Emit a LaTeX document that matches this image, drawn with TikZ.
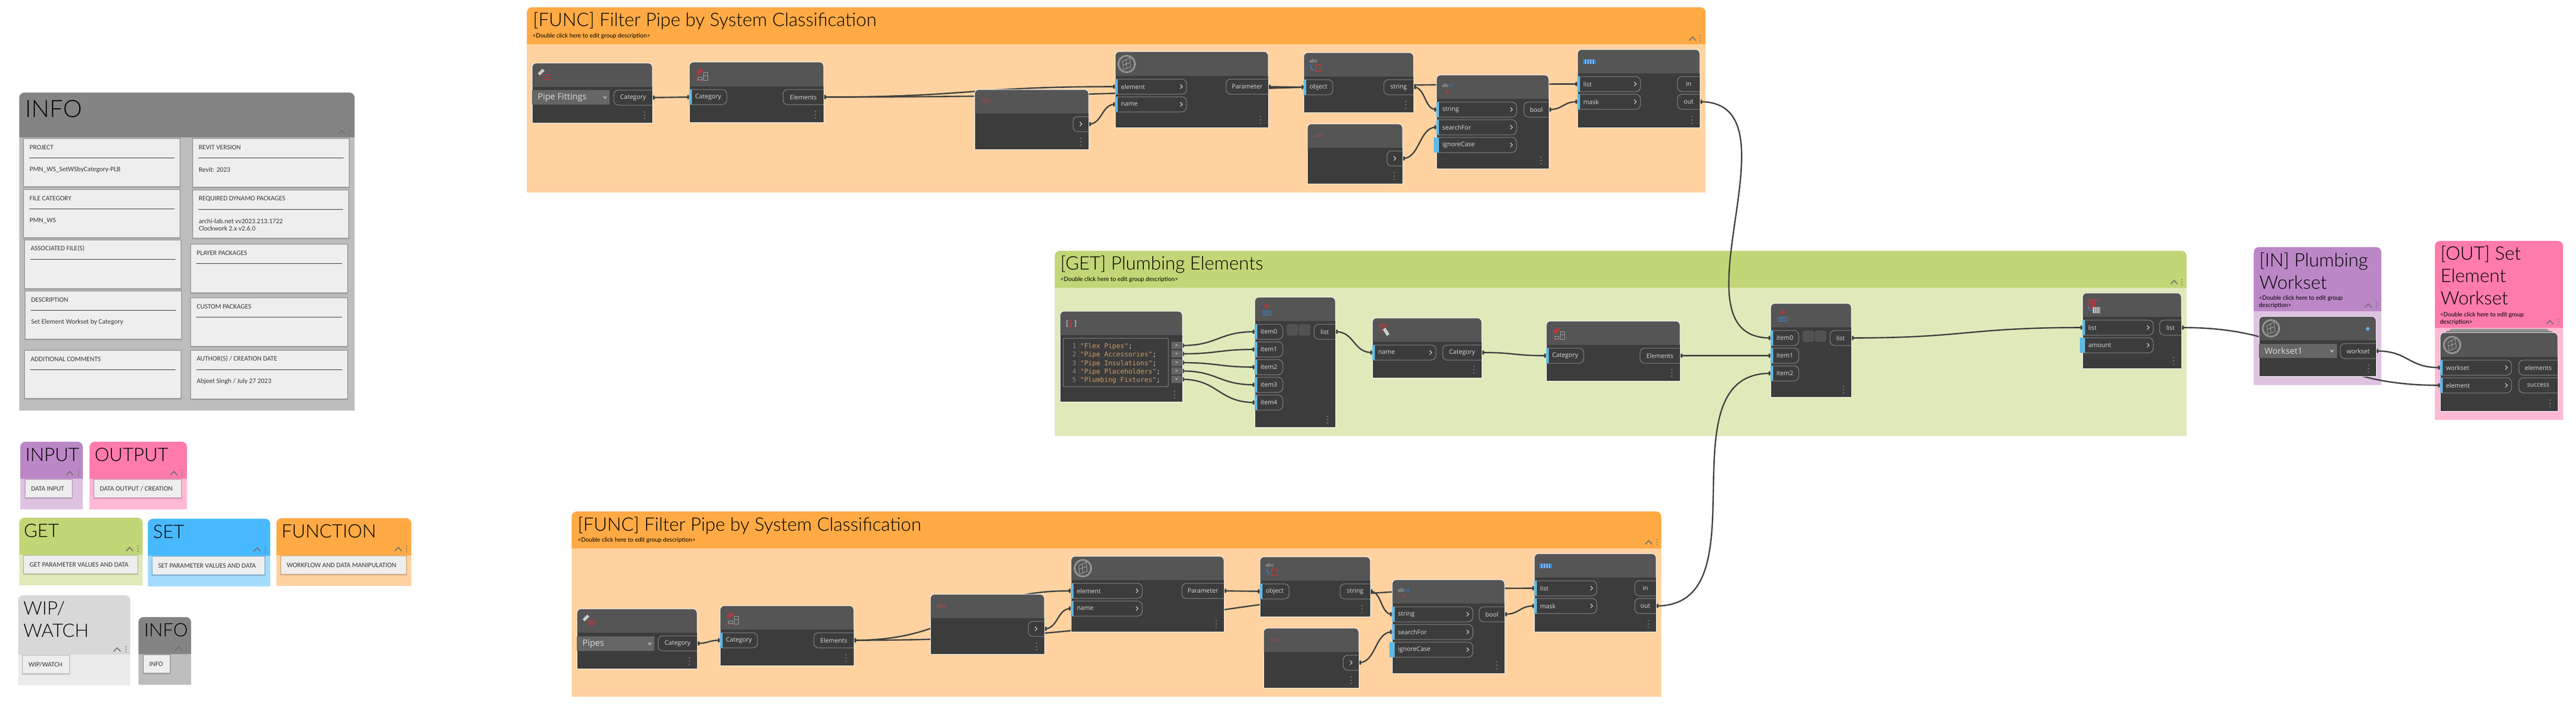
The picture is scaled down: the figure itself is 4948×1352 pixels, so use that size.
\documentclass[tikz,border=0pt]{standalone}
\usepackage{fontspec}
\setmainfont{Lato}
\newfontfamily\ttlf{Lato Light}
\newfontfamily\portf{Open Sans}
\newfontfamily\cardf{Carlito}
\newfontfamily\monof{DejaVu Sans Mono}
\usetikzlibrary{calc}
\pgfdeclarelayer{grp}\pgfdeclarelayer{wire}\pgfsetlayers{grp,wire,main}
\definecolor{cInH}{HTML}{BB87C6}\definecolor{cInB}{HTML}{DEC3E1}
\definecolor{cOutH}{HTML}{FF7BAC}\definecolor{cOutB}{HTML}{FFB9D4}
\definecolor{cGetH}{HTML}{C1D676}\definecolor{cGetB}{HTML}{E0E9BA}
\definecolor{cSetH}{HTML}{48B9FF}\definecolor{cSetB}{HTML}{A3DBFF}
\definecolor{cFunH}{HTML}{FFAA45}\definecolor{cFunB}{HTML}{FFD2A0}
\definecolor{cWipH}{HTML}{D8D8D8}\definecolor{cWipB}{HTML}{EBEBEB}
\definecolor{cInfH}{HTML}{848484}\definecolor{cInfB}{HTML}{BDBDBD}
\definecolor{nHead}{HTML}{555555}\definecolor{nBody}{HTML}{3C3C3C}
\definecolor{wireC}{HTML}{3F3F3F}\definecolor{pLine}{HTML}{8E8E8E}
\definecolor{pBar}{HTML}{5FB8E6}\definecolor{pTxt}{HTML}{DADADA}
\definecolor{ddC}{HTML}{666666}\definecolor{cardC}{HTML}{EEEEEE}
\definecolor{codeC}{HTML}{D49A5C}\definecolor{iRed}{HTML}{B5393C}
\definecolor{iBlue}{HTML}{3D82C9}\definecolor{ctlC}{HTML}{6F6F6F}
\tikzset{
 grouptitle/.style={anchor=base west,inner sep=0pt,text=black,font=\ttlf\fontsize{8.9}{10}\selectfont},
 bigtitle/.style={grouptitle,font=\ttlf\fontsize{11.5}{14}\selectfont},
 groupdesc/.style={anchor=base west,inner sep=0pt,text=black,font=\fontsize{2.85}{3.4}\selectfont},
 portbox/.style={inner sep=0pt,minimum height=7.25pt},
 plabel/.style={inner sep=0pt,text=pTxt,font=\portf\fontsize{3.0}{3.6}\selectfont},
 pline/.style={draw=pLine,line width=.25pt},
 ddtext/.style={anchor=west,inner sep=0pt,text=pTxt,font=\portf\fontsize{4.15}{5}\selectfont},
 wirest/.style={draw=wireC,line width=.65pt},
 cardtxt/.style={anchor=west,inner sep=0pt,text=black!78,font=\cardf\fontsize{3.27}{4}\selectfont},
 codetxt/.style={anchor=base west,inner sep=0pt,text=codeC,font=\monof\fontsize{3.2}{4}\selectfont},
 lineno/.style={anchor=base east,inner sep=0pt,text=black!45,font=\monof\fontsize{3.2}{4}\selectfont},
 outsq/.style={inner sep=0pt,fill=ddC,minimum width=5pt,minimum height=3.5pt,text=pTxt,font=\monof\fontsize{2.2}{3}\selectfont},
 abctxt/.style={inner sep=0pt,text=iRed!75!gray,font=\portf\fontsize{2.6}{3}\selectfont},
 icotxt/.style={inner sep=0pt,text=black!25,font=\portf\fontsize{2.4}{3}\selectfont},
 nodehull/.style={inner sep=0pt},
}
% group: header, body, x0 y0 x1 yh y1
\newcommand\grp[7]{\begin{pgfonlayer}{grp}
 \fill[#2] (#3,#6) rectangle (#5,#7);
 \fill[#1,rounded corners=2.4pt] (#3,#6) -- (#3,#4) -- (#5,#4) -- (#5,#6);
 \end{pgfonlayer}}
\newcommand\grpctl[4][ctlC]{\begin{pgfonlayer}{grp}
 \draw[#1,line width=.45pt] (#2-6.5,#3+4) -- (#2,#3-3) -- (#2+6.5,#3+4);
 \foreach \k in {-5,0,5}{\draw[#1,line width=.1pt] (#4,#3+\k) circle[radius=1];}
 \end{pgfonlayer}}
% dynamo node: name x0 y0 x1 y1 yh
\newcommand\dyn[6]{%
 \node[nodehull,minimum width={(#4-#2)*0.25pt},minimum height={(#5-#3)*0.25pt}] (#1) at ({(#2+#4)/2},{(#3+#5)/2}) {};
 \fill[nHead,rounded corners=2pt] (#2,#6) -- (#2,#3) -- (#4,#3) -- (#4,#6);
 \fill[nBody] (#2,#6) rectangle (#4,#5);
 \draw[white,line width=.25pt,rounded corners=2pt] (#2,#6) -- (#2,#3) -- (#4,#3) -- (#4,#6);
 \draw[white,line width=.25pt] (#2,#6) -- (#2,#5) -- (#4,#5) -- (#4,#6);}
\newcommand\kebab[2]{\foreach \k in {0,6.5,13}{\fill[black!52] (#1,#2+\k) circle[radius=1.5];}}
\newcommand\chev[2]{\draw[pTxt,line width=.28pt] (#1-2,#2-4) -- (#1+2,#2) -- (#1-2,#2+4);}
\newcommand\inport[5]{%
 \node[portbox,minimum width={(#4-#2)*0.25pt}] (#1) at ({(#2+#4)/2},{#3+14.5}) {};
 \draw[pline,rounded corners=2.25pt] (#2,#3) -- (#4,#3) -- (#4,#3+29) -- (#2,#3+29);
 \fill[pBar] (#2,#3) rectangle (#2+5,#3+29);
 \node[plabel,anchor=west] (#1-t) at (#2+10.5,#3+14.5) {#5};}
\newcommand\inportc[5]{\inport{#1}{#2}{#3}{#4}{#5}\chev{#4-10}{#3+14.5}}
\newcommand\xbar[2]{\fill[pBar] (#1-5,#2) rectangle (#1+5,#2+29);}
\newcommand\outport[6][]{%
 \node[portbox,minimum width={(#5-#3)*0.25pt}] (#2) at ({(#3+#5)/2},{#4+14.5}) {};
 \draw[pline,rounded corners=2.25pt] (#5,#4) -- (#3,#4) -- (#3,#4+29) -- (#5,#4+29);
 \node[plabel] (#2-t) at ({(#3+#5)/2#1},{#4+14.5}) {#6};}
\newcommand\outportc[4]{%
 \node[portbox,minimum width={(#4-#2)*0.25pt}] (#1) at ({(#2+#4)/2},{#3+14.5}) {};
 \draw[pline,rounded corners=2.25pt] (#4,#3) -- (#2,#3) -- (#2,#3+29) -- (#4,#3+29);
 \chev{#2+15}{#3+14.5}}
\newcommand\drop[7]{% name x0 y0 x1 y1 label chevx
 \node[nodehull,fill=ddC,minimum width={(#4-#2)*0.25pt},minimum height={(#5-#3)*0.25pt}] (#1) at ({(#2+#4)/2},{(#3+#5)/2}) {};
 \node[ddtext] (#1-t) at (#2+10,{(#3+#5)/2}) {#6};
 \draw[pTxt,line width=.3pt] (#7-3,{(#3+#5)/2-2}) -- (#7,{(#3+#5)/2+2}) -- (#7+3,{(#3+#5)/2-2});}
% connector
\newcommand\wire[3]{\begin{pgfonlayer}{wire}
 \draw[wirest] (#1.east) .. controls +(#3,0) and +(-#3,0) .. (#2.west);
 \fill[wireC] ($(#1.east)+(2,0)$) ellipse[x radius=2,y radius=4.5];
 \fill[wireC] ($(#2.west)+(-1.5,0)$) ellipse[x radius=2,y radius=4.5];
 \end{pgfonlayer}}
% cards
\newcommand\cardbase[5]{%
 \fill[black,opacity=.10] (#2-2,#3-2) rectangle (#4+2,#5+3);
 \fill[black,opacity=.10] (#2-1,#3-1) rectangle (#4+1,#5+2);
 \node[nodehull,fill=cardC,minimum width={(#4-#2)*0.25pt},minimum height={(#5-#3)*0.25pt}] (#1) at ({(#2+#4)/2},{(#3+#5)/2}) {};}
\newcommand\card[7]{\cardbase{#1}{#2}{#3}{#4}{#5}
 \node[cardtxt] (#1-l) at (#2+10,#3+16) {#6};
 \draw[black!85,line width=.25pt] (#2+10,#3+36) -- (#4-10,#3+36);
 \node[cardtxt] (#1-v) at (#2+10,#3+59) {#7};}
\newcommand\lcard[6]{\cardbase{#1}{#2}{#3}{#4}{#5}
 \node[cardtxt] (#1-l) at (#2+10,{(#3+#5)/2}) {#6};}
% icons
\newcommand\icoSelect[2]{\begin{scope}[shift={(#1,#2)}]
 \fill[white!80!black] (2,-7) -- (6,-3) -- (-3,6) -- (-7,2) -- cycle;
 \foreach \k in {4,8.5,13}{\fill[iRed] (6,\k) rectangle (17,\k+2);\fill[iRed] (2,\k) rectangle (4.5,\k+2);}
 \end{scope}}
\newcommand\icoCat[2]{\begin{scope}[shift={(#1,#2)}]
 \fill[iRed] (4,-8) -- (8,-3) -- (0,5) -- (-5,0) -- cycle;
 \draw[iRed,line width=.2pt] (-4,3) -- (-4,15) -- (17,15);
 \draw[white!65!black,line width=.2pt] (-2,9) rectangle (6,14);
 \draw[white!65!black,line width=.2pt] (9,0) rectangle (17,15) (9,6) -- (17,6);
 \end{scope}}
\newcommand\icoRevit[2]{\begin{scope}[shift={(#1,#2)}]
 \draw[white!80!black,line width=.25pt] (0,0) circle[radius=16.5];
 \draw[white!80!black,line width=.15pt] (0,0) circle[radius=14.5];
 \draw[white!70!black,line width=.2pt] (-8,-5) -- (6,-12) -- (8,6) -- (-6,11) -- cycle (-1,-8) -- (0,8) (-7,2) -- (7,-3);
 \end{scope}}
\newcommand\icoStr[2]{\begin{scope}[shift={(#1,#2)}]
 \node[icotxt] at (0,-1) {abc};
 \draw[iBlue,line width=.4pt] (-6,6) .. controls (-6,12) and (-3,15) .. (0,17);
 \draw[iRed,line width=.3pt] (4,7) rectangle (15,19);
 \end{scope}}
\newcommand\icoContains[2]{\begin{scope}[shift={(#1,#2)}]
 \node[icotxt] at (0,0) {\textcolor{black!25}{ab}\textcolor{iBlue}{cd}};
 \fill[iRed] (-3,14) -- (0,7) -- (3,14) -- cycle;
 \end{scope}}
\newcommand\icoStripes[2]{\begin{scope}[shift={(#1,#2)}]
 \fill[iBlue] (-12,-4.5) rectangle (12,4.5);
 \foreach \k in {-8,-3,2,7}{\fill[white!85!iBlue] (\k,-4.5) rectangle (\k+1.3,4.5);}
 \end{scope}}
\newcommand\icoCreate[2]{\begin{scope}[shift={(#1,#2)}]
 \fill[iRed] (-5,-14) rectangle (5,-12) (-1,-18) rectangle (1,-8);
 \draw[iBlue,line width=.25pt] (-8,-4) rectangle (8,4);
 \foreach \k in {-5,-2,1,4}{\draw[iBlue,line width=.25pt] (\k,-4) -- (\k,4);}
 \end{scope}}
\begin{document}
\begin{tikzpicture}[x=0.25pt,y=-0.25pt]
\useasboundingbox (0,0) rectangle (4948,1352);
%%%%%% INFO panel
\grp{cInfH}{cInfB}{37}{178}{681}{264}{789}
\grpctl[cInfH!85!black]{657}{254}{671}
\node[bigtitle] (infoT) at (48,225) {INFO};
\card{cProj}{46}{267}{345}{358}{PROJECT}{PMN\_WS\_SetWSbyCategory-PLB}
\card{cRevit}{371}{267}{670}{359}{REVIT VERSION}{Revit: 2023}
\card{cFile}{46}{365}{345}{456}{FILE CATEGORY}{PMN\_WS}
\card{cReq}{371}{366}{669}{457}{REQUIRED DYNAMO PACKAGES}{archi-lab.net vv2023.213.1722}
\node[cardtxt] (cReq-w) at (381,439) {Clockwork 2.x v2.6.0};
\card{cAssoc}{48}{462}{347}{554}{ASSOCIATED FILE(S)}{}
\card{cPlayer}{367}{470}{667}{562}{PLAYER PACKAGES}{}
\card{cDesc}{49}{560}{348}{651}{DESCRIPTION}{Set Element Workset by Category}
\card{cCust}{367}{573}{667}{665}{CUSTOM PACKAGES}{}
\card{cAdd}{48}{674}{347}{765}{ADDITIONAL COMMENTS}{}
\card{cAuth}{367}{674}{667}{766}{AUTHOR(S) / CREATION DATE}{Abjeet Singh / July 27 2023}
%%%%%% legend
\grp{cInH}{cInB}{39}{849}{159}{920}{979}\grpctl{134}{909}{151}
\node[grouptitle] (lgIn) at (48,886) {INPUT};
\lcard{lcIn}{49}{922}{138}{956}{DATA INPUT}
\grp{cOutH}{cOutB}{172}{849}{359}{920}{979}\grpctl{334}{909}{350}
\node[grouptitle] (lgOut) at (181,886) {OUTPUT};
\lcard{lcOut}{181}{922}{348}{956}{DATA OUTPUT / CREATION}
\grp{cGetH}{cGetB}{37}{995}{274}{1066}{1125}\grpctl{249}{1055}{265}
\node[grouptitle] (lgGet) at (45,1032) {GET};
\lcard{lcGet}{46}{1068}{264}{1102}{GET PARAMETER VALUES AND DATA}
\grp{cSetH}{cSetB}{284}{997}{519}{1068}{1127}\grpctl{494}{1056}{510}
\node[grouptitle] (lgSet) at (293,1034) {SET};
\lcard{lcSet}{293}{1070}{508}{1104}{SET PARAMETER VALUES AND DATA}
\grp{cFunH}{cFunB}{531}{996}{790}{1067}{1126}\grpctl{765}{1055}{781}
\node[grouptitle] (lgFun) at (540,1033) {FUNCTION};
\lcard{lcFun}{540}{1069}{780}{1103}{WORKFLOW AND DATA MANIPULATION}
\grp{cWipH}{cWipB}{35}{1144}{250}{1258}{1317}\grpctl{225}{1248}{242}
\node[grouptitle] (lgWip) at (44,1181) {WIP/};
\node[grouptitle] (lgWip2) at (44,1224) {WATCH};
\lcard{lcWip}{44}{1260}{133}{1294}{WIP/WATCH}
\grp{cInfH}{cInfB}{266}{1186}{367}{1257}{1316}\grpctl[cInfH!85!black]{343}{1246}{358}
\node[grouptitle] (lgInf) at (276,1223) {INFO};
\lcard{lcInf}{276}{1259}{326}{1293}{INFO}
%%%%%% top FUNC group
\grp{cFunH}{cFunB}{1012}{14}{3276}{85}{370}\grpctl{3251}{74}{3266}
\begin{pgfonlayer}{grp}
\node[grouptitle] (gT1) at (1023,50) {[FUNC] Filter Pipe by System Classification};
\node[groupdesc] (gD1) at (1022,72) {<Double click here to edit group description>};
\end{pgfonlayer}
\dyn{a1}{1022}{121}{1253}{236}{167}\icoSelect{1040}{139}
\drop{a1d}{1022}{173}{1171}{201}{Pipe Fittings}{1162}
\outport{a1c}{1179}{173}{1253}{Category}\kebab{1238}{215}
\dyn{b1}{1324}{119}{1582}{235}{166}\icoCat{1342}{139}
\inport{b1i}{1324}{172}{1396}{Category}
\outport{b1o}{1504}{172}{1582}{Elements}\kebab{1566}{214}
\dyn{c1}{1872}{172}{2091}{287}{218}\node[abctxt] (c1t) at (1894,195) {ABC};
\outportc{c1o}{2061}{224}{2091}\kebab{2076}{266}
\dyn{d1}{2142}{99}{2436}{245}{146}\icoRevit{2164}{123}
\inportc{d1e}{2142}{152}{2279}{element}\inportc{d1n}{2142}{186}{2279}{name}
\outport{d1p}{2355}{152}{2436}{Parameter}\kebab{2421}{224}
\dyn{e1}{2504}{101}{2715}{216}{147}\icoStr{2523}{118}
\inport{e1o}{2504}{153}{2560}{object}
\outport{e1s}{2658}{153}{2715}{string}\kebab{2700}{195}
\dyn{f1}{2511}{238}{2694}{353}{284}\node[abctxt] (f1t) at (2533,261) {ABC};
\outportc{f1o}{2664}{290}{2694}\kebab{2678}{332}
\xbar{2759}{264}
\dyn{g1}{2759}{144}{2975}{324}{190}\icoContains{2781}{164}
\xbar{2759}{264}
\inportc{g1s}{2759}{196}{2913}{string}\inportc{g1f}{2759}{230}{2913}{searchFor}\inportc{g1c}{2759}{264}{2913}{ignoreCase}
\outport{g1b}{2927}{196}{2975}{bool}\kebab{2960}{302}
\dyn{h1}{3030}{95}{3265}{245}{141}\icoStripes{3053}{118}
\inportc{h1l}{3030}{147}{3151}{list}\inportc{h1m}{3030}{181}{3151}{mask}
\outport{h1n}{3222}{147}{3265}{in}\outport{h1t}{3222}{181}{3265}{out}\kebab{3250}{224}
%%%%%% bottom FUNC group
\grp{cFunH}{cFunB}{1098}{983}{3191}{1054}{1339}\grpctl{3167}{1042}{3183}
\begin{pgfonlayer}{grp}
\node[grouptitle] (gT3) at (1109,1020) {[FUNC] Filter Pipe by System Classification};
\node[groupdesc] (gD3) at (1109,1041) {<Double click here to edit group description>};
\end{pgfonlayer}
\dyn{a3}{1108}{1170}{1339}{1285}{1216}\icoSelect{1126}{1188}
\drop{a3d}{1108}{1223}{1257}{1251}{Pipes}{1248}
\outport{a3c}{1264}{1222}{1339}{Category}\kebab{1324}{1264}
\dyn{b3}{1383}{1164}{1640}{1279}{1210}\icoCat{1401}{1184}
\inport{b3i}{1383}{1216}{1455}{Category}
\outport{b3o}{1563}{1216}{1640}{Elements}\kebab{1625}{1258}
\dyn{c3}{1787}{1142}{2006}{1257}{1188}\node[abctxt] (c3t) at (1809,1165) {ABC};
\outportc{c3o}{1975}{1194}{2006}\kebab{1991}{1236}
\dyn{d3}{2057}{1069}{2351}{1214}{1115}\icoRevit{2080}{1092}
\inportc{d3e}{2057}{1121}{2194}{element}\inportc{d3n}{2057}{1155}{2194}{name}
\outport{d3p}{2270}{1121}{2351}{Parameter}\kebab{2336}{1193}
\dyn{e3}{2420}{1070}{2632}{1185}{1116}\icoStr{2439}{1087}
\inport{e3o}{2420}{1122}{2476}{object}
\outport{e3s}{2574}{1122}{2632}{string}\kebab{2616}{1164}
\dyn{f3}{2427}{1207}{2610}{1322}{1253}\node[abctxt] (f3t) at (2449,1230) {ABC};
\outportc{f3o}{2580}{1259}{2610}\kebab{2595}{1301}
\xbar{2674}{1234}
\dyn{g3}{2674}{1114}{2890}{1294}{1160}\icoContains{2696}{1134}
\xbar{2674}{1234}
\inportc{g3s}{2674}{1166}{2829}{string}\inportc{g3f}{2674}{1200}{2829}{searchFor}\inportc{g3c}{2674}{1234}{2829}{ignoreCase}
\outport{g3b}{2841}{1166}{2890}{bool}\kebab{2875}{1272}
\dyn{h3}{2947}{1064}{3181}{1214}{1110}\icoStripes{2969}{1087}
\inportc{h3l}{2947}{1116}{3067}{list}\inportc{h3m}{2947}{1150}{3067}{mask}
\outport{h3n}{3140}{1116}{3181}{in}\outport{h3t}{3140}{1150}{3181}{out}\kebab{3166}{1193}
%%%%%% GET group
\grp{cGetH}{cGetB}{2026}{482}{4200}{553}{838}\grpctl{4176}{542}{4191}
\begin{pgfonlayer}{grp}
\node[grouptitle] (gT2) at (2036,518) {[GET] Plumbing Elements};
\node[groupdesc] (gD2) at (2036,540) {<Double click here to edit group description>};
\end{pgfonlayer}
% code block
\dyn{cb}{2036}{598}{2271}{772}{644}
\node[inner sep=0pt,text=white!85!black,font=\monof\fontsize{3.4}{4}\selectfont] (cbi1) at (2050,622) {[};
\node[inner sep=0pt,text=white!85!black,font=\monof\fontsize{3.4}{4}\selectfont] (cbi2) at (2066,622) {]};
\fill[iRed] (2056,614) rectangle (2058,630) (2053,614) rectangle (2061,615.5) (2053,628.5) rectangle (2061,630);
\draw[pLine,line width=.25pt,rounded corners=.6pt] (2042,650) rectangle (2244,743);
\draw[black!50,line width=.2pt,densely dotted] (2072,656) -- (2072,737);
\node[lineno] (ln1) at (2068,669) {1};\node[codetxt] (cl1) at (2074,669) {"Flex Pipes"\textcolor{pTxt}{;}};
\node[lineno] (ln2) at (2068,685) {2};\node[codetxt] (cl2) at (2074,685) {"Pipe Accessories"\textcolor{pTxt}{;}};
\node[lineno] (ln3) at (2068,702) {3};\node[codetxt] (cl3) at (2074,702) {"Pipe Insulations"\textcolor{pTxt}{;}};
\node[lineno] (ln4) at (2068,718) {4};\node[codetxt] (cl4) at (2074,718) {"Pipe Placeholders"\textcolor{pTxt}{;}};
\node[lineno] (ln5) at (2068,734) {5};\node[codetxt] (cl5) at (2074,734) {"Plumbing Fixtures"\textcolor{pTxt}{;}};
\node[outsq] (cr1) at (2260,664) {>};\node[outsq] (cr2) at (2260,680) {>};\node[outsq] (cr3) at (2260,697) {>};\node[outsq] (cr4) at (2260,713) {>};\node[outsq] (cr5) at (2260,729) {>};
\kebab{2256}{752}
% list create 1
\dyn{l1}{2410}{571}{2565}{821}{617}\icoCreate{2433}{601}
\inport{l1a}{2410}{623}{2464}{item0}\inport{l1b}{2410}{657}{2464}{item1}\inport{l1c}{2410}{691}{2464}{item2}\inport{l1d}{2410}{725}{2464}{item3}\inport{l1e}{2410}{759}{2464}{item4}
\fill[black!68,rounded corners=1pt] (2471,623) rectangle (2493.5,645) (2494.5,623) rectangle (2517,645);
\outport{l1o}{2524}{623}{2565}{list}\kebab{2550}{800}
% cat by name
\dyn{n1}{2636}{611}{2846}{726}{657}
\draw[iRed,line width=.3pt] (2650,624) rectangle (2662,636) (2650,628) -- (2662,628) (2656,621) -- (2656,624);
\fill[white!80!black] (2656,633) -- (2661,630) -- (2669,642) -- (2664,646) -- cycle;
\inportc{n1i}{2636}{663}{2758}{name}
\outport{n1o}{2771}{663}{2846}{Category}\kebab{2831}{704}
% all elements of category
\dyn{m1}{2970}{617}{3227}{732}{663}\icoCat{2988}{637}
\inport{m1i}{2970}{669}{3042}{Category}
\outport{m1o}{3150}{669}{3227}{Elements}\kebab{3211}{710}
% list create 2
\dyn{l2}{3401}{583}{3556}{763}{629}\icoCreate{3424}{613}
\inport{l2a}{3401}{635}{3455}{item0}\inport{l2b}{3401}{669}{3455}{item1}\inport{l2c}{3401}{703}{3455}{item2}
\fill[black!68,rounded corners=1pt] (3462,635) rectangle (3484.5,657) (3485.5,635) rectangle (3508,657);
\outport{l2o}{3515}{635}{3556}{list}\kebab{3541}{742}
% chop
\xbar{4000}{649}
\dyn{k1}{4000}{563}{4190}{708}{609}
\foreach \ii in {0,1,2}{\foreach \jj in {0,1,2}{\fill[iRed] (4011+\ii*5,575+\jj*5) rectangle (4015+\ii*5,579+\jj*5);}}
\fill[iRed] (4011,590) rectangle (4027,593);
\node[icotxt,text=iRed!70!gray] (k1n) at (4029,578) {n};
\draw[iBlue,line width=.4pt] (4011,589) .. controls (4011,595) and (4014,596) .. (4020,597);
\fill[white!80!black] (4020,590) rectangle (4034,602);
\foreach \ii in {0,1,2,3}{\draw[nHead,line width=.2pt] (4023+\ii*3,590) -- (4023+\ii*3,602);}
\xbar{4000}{649}
\inportc{k1l}{4000}{615}{4136}{list}\inportc{k1a}{4000}{649}{4136}{amount}
\outport{k1o}{4148}{615}{4190}{list}\kebab{4175}{687}
%%%%%% IN group
\grp{cInH}{cInB}{4329}{475}{4574}{598}{740}\grpctl{4549}{587}{4565}
\begin{pgfonlayer}{grp}
\node[grouptitle] (gTi1) at (4339,512) {[IN] Plumbing};
\node[grouptitle] (gTi2) at (4339,555) {Workset};
\node[groupdesc] (gDi1) at (4338,576) {<Double click here to edit group};
\node[groupdesc] (gDi2) at (4338,590) {description>};
\end{pgfonlayer}
\dyn{ws}{4339}{608}{4564}{723}{654}\icoRevit{4362}{631}
\fill[pBar] (4548,632) ellipse[x radius=3.5,y radius=3.5];
\drop{wsd}{4339}{661}{4489}{688}{Workset1}{4479}
\outport{wso}{4495}{660}{4564}{workset}\kebab{4549}{702}
%%%%%% OUT group
\grp{cOutH}{cOutB}{4677}{463}{4923}{630}{807}\grpctl{4898}{619}{4914}
\begin{pgfonlayer}{grp}
\node[grouptitle] (gTo1) at (4687,499) {[OUT] Set};
\node[grouptitle] (gTo2) at (4687,542) {Element};
\node[grouptitle] (gTo3) at (4687,585) {Workset};
\node[groupdesc] (gDo1) at (4686,608) {<Double click here to edit group};
\node[groupdesc] (gDo2) at (4686,622) {description>};
\end{pgfonlayer}
\fill[black!42,rounded corners=1.5pt] (4704,632) rectangle (4896,642);
\fill[black!52,rounded corners=1.5pt] (4696,636) rectangle (4904,645);
\dyn{s1}{4687}{639}{4913}{790}{686}\icoRevit{4710}{663}
\inportc{s1w}{4687}{692}{4824}{workset}\inportc{s1e}{4687}{726}{4824}{element}
\outport{s1o}{4838}{692}{4913}{elements}\outport{s1s}{4838}{726}{4913}{success}\kebab{4898}{769}
%%%%%% connectors
\wire{a1c}{b1i}{35}
\wire{b1o}{d1e}{280}
\wire{b1o}{h1l}{720}
\wire{c1o}{d1n}{25}
\wire{d1p}{e1o}{34}
\wire{e1s}{g1s}{22}
\wire{f1o}{g1f}{32}
\wire{g1b}{h1m}{27}
\wire{h1t}{l2a}{200}
\wire{a3c}{b3i}{22}
\wire{b3o}{d3e}{200}
\wire{b3o}{h3l}{650}
\wire{c3o}{d3n}{25}
\wire{d3p}{e3o}{34}
\wire{e3s}{g3s}{21}
\wire{f3o}{g3f}{32}
\wire{g3b}{h3m}{28}
\wire{h3t}{l2c}{210}
\wire{cr1}{l1a}{68}
\wire{cr2}{l1b}{68}
\wire{cr3}{l1c}{68}
\wire{cr4}{l1d}{68}
\wire{cr5}{l1e}{68}
\wire{l1o}{n1i}{36}
\wire{n1o}{m1i}{62}
\wire{m1o}{l2b}{87}
\wire{l2o}{k1l}{220}
\wire{k1o}{s1e}{250}
\wire{wso}{s1w}{62}
\end{tikzpicture}
\end{document}
